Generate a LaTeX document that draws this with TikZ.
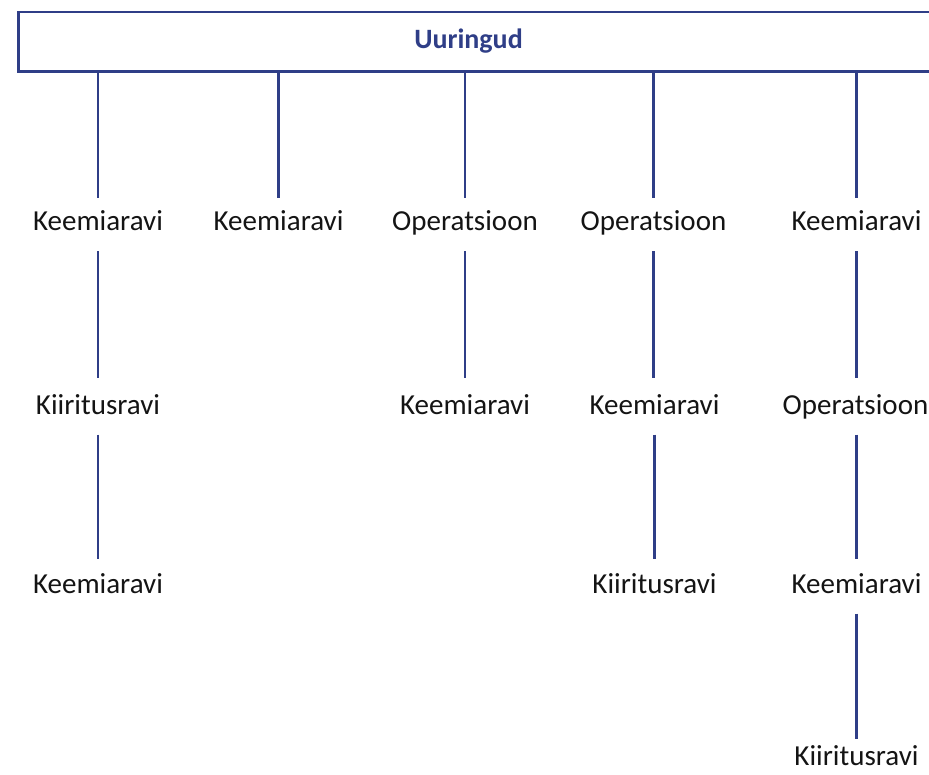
\documentclass[tikz,border=0pt]{standalone}
\usepackage{fontspec}
\setmainfont{Carlito}
\definecolor{navy}{RGB}{47,62,135}
\definecolor{txt}{RGB}{20,20,20}
\begin{document}
\begin{tikzpicture}[x=1pt,y=-1pt,
  lbl/.style={font=\fontsize{29}{34}\selectfont, text=txt, inner sep=0pt, outer sep=0pt, anchor=base, text depth=20.5pt},
  rowa/.style={text height=32.5pt},
  rowb/.style={text height=36pt},
  rowc/.style={text height=34pt},
  rowd/.style={text height=26pt},
  link/.style={draw=navy, line width=2.2pt},
  topbox/.style={draw=navy, line width=2.4pt, inner sep=0pt, outer sep=0pt, anchor=north west, minimum width=960pt, minimum height=59.5pt},
  title/.style={font=\fontsize{28}{33}\selectfont\bfseries, text=navy, inner sep=0pt, anchor=base}]
\useasboundingbox (0,0) rectangle (929,775);
\node[topbox] (box) at (18.3,12) {};
\node[title] (ttl) at (468.5,49) {Uuringud};
% column 1
\node[lbl,rowa] (a1) at (98,231) {Keemiaravi};
\node[lbl,rowb] (a2) at (98,414) {Kiiritusravi};
\node[lbl,rowc] (a3) at (98,593) {Keemiaravi};
% column 2
\node[lbl,rowa] (b1) at (278.5,231) {Keemiaravi};
% column 3
\node[lbl,rowa] (c1) at (465,231) {Operatsioon};
\node[lbl,rowb] (c2) at (465,414) {Keemiaravi};
% column 4
\node[lbl,rowa] (d1) at (653.5,231) {Operatsioon};
\node[lbl,rowb] (d2) at (654.5,414) {Keemiaravi};
\node[lbl,rowc] (d3) at (654.5,593) {Kiiritusravi};
% column 5
\node[lbl,rowa] (e1) at (856.5,231) {Keemiaravi};
\node[lbl,rowb] (e2) at (855.5,414) {Operatsioon};
\node[lbl,rowc] (e3) at (856.5,593) {Keemiaravi};
\node[lbl,rowd] (e4) at (856.5,765) {Kiiritusravi};
% connectors
\draw[link] (a1.north |- box.south) -- (a1.north);
\draw[link] (b1.north |- box.south) -- (b1.north);
\draw[link] (c1.north |- box.south) -- (c1.north);
\draw[link] (d1.north |- box.south) -- (d1.north);
\draw[link] (e1.north |- box.south) -- (e1.north);
\draw[link] (a1.south) -- (a2.north);
\draw[link] (a2.south) -- (a3.north);
\draw[link] (c1.south) -- (c2.north);
\draw[link] (d1.south) -- (d1.south |- d2.north);
\draw[link] (d2.south) -- (d2.south |- d3.north);
\draw[link] (e1.south) -- (e1.south |- e2.north);
\draw[link] (e2.south -| e1.south) -- (e1.south |- e3.north);
\draw[link] (e3.south) -- (e4.north);
\end{tikzpicture}
\end{document}
